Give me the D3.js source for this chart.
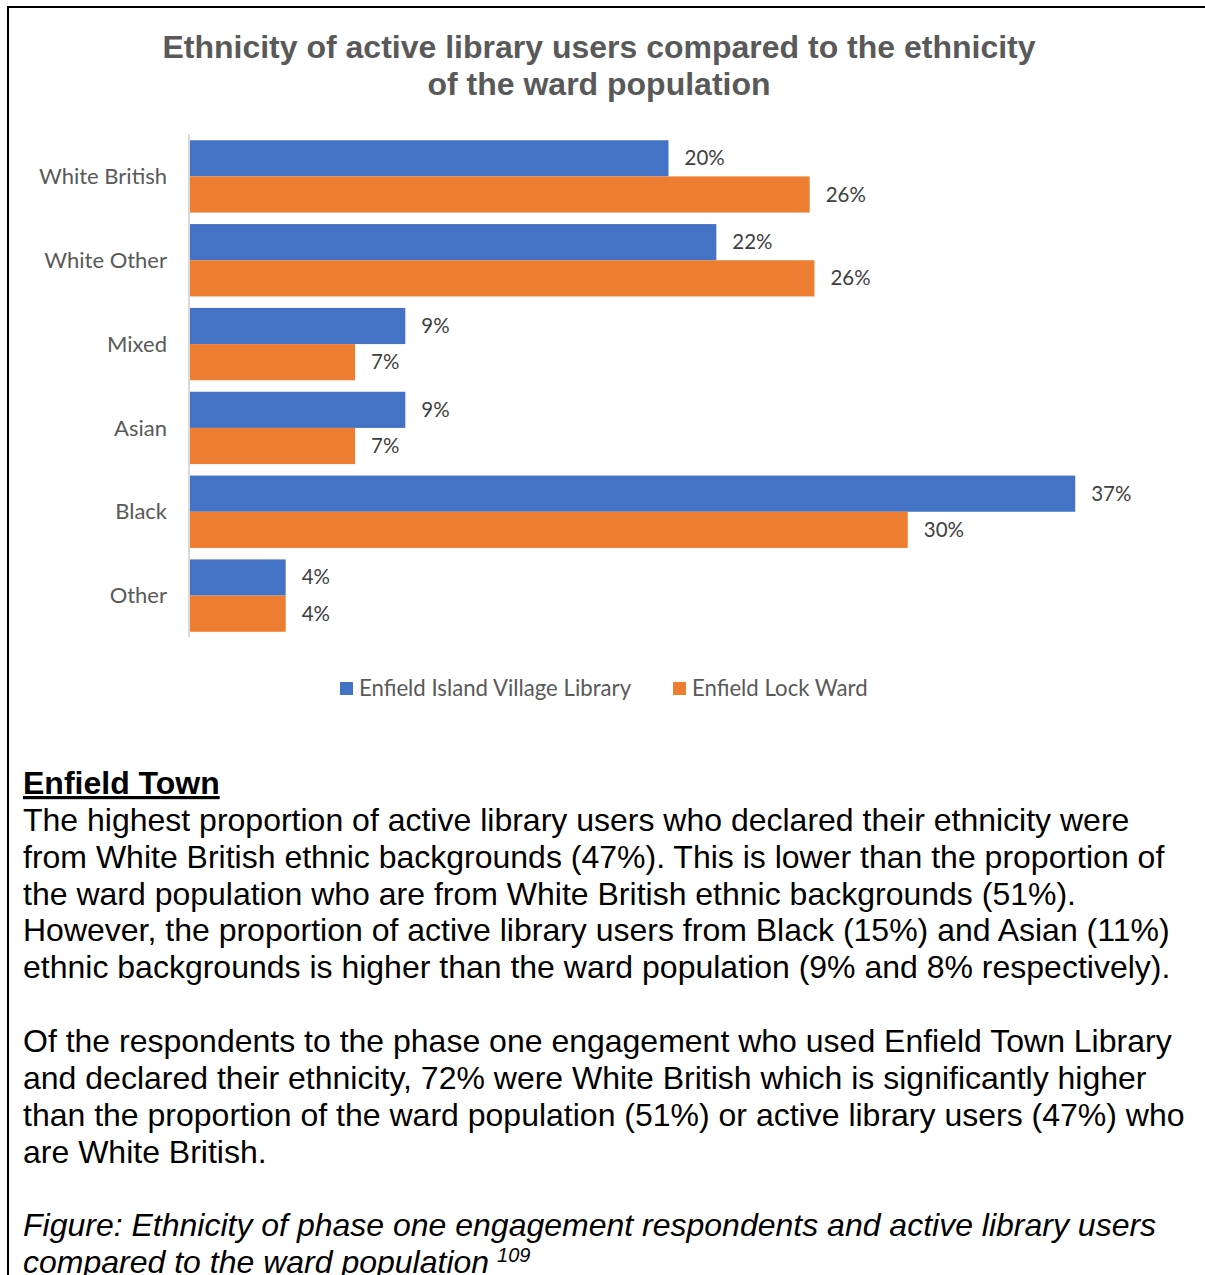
<!DOCTYPE html>
<html>
<head>
<meta charset="utf-8">
<script src="https://cdn.jsdelivr.net/npm/d3@7"></script>
<style>
  html, body { margin: 0; padding: 0; background: #fff; }
  svg { display: block; }
</style>
</head>
<body>
<svg id="chart" width="1205" height="1275"></svg>
<script>
// ---- data ----
const categories = ["White British", "White Other", "Mixed", "Asian", "Black", "Other"];
const seriesNames = ["Enfield Island Village Library", "Enfield Lock Ward"];
const libraryValues = [0.20, 0.22, 0.09, 0.09, 0.37, 0.04];
const wardValues = [0.259, 0.261, 0.069, 0.069, 0.30, 0.04];
const seriesColors = ["#4472C4", "#ED7D31"];
const titleLines = ["Ethnicity of active library users compared to the ethnicity", "of the ward population"];
const heading = "Enfield Town";
const paragraph1 = [
  "The highest proportion of active library users who declared their ethnicity were",
  "from White British ethnic backgrounds (47%). This is lower than the proportion of",
  "the ward population who are from White British ethnic backgrounds (51%).",
  "However, the proportion of active library users from Black (15%) and Asian (11%)",
  "ethnic backgrounds is higher than the ward population (9% and 8% respectively)."
];
const paragraph2 = [
  "Of the respondents to the phase one engagement who used Enfield Town Library",
  "and declared their ethnicity, 72% were White British which is significantly higher",
  "than the proportion of the ward population (51%) or active library users (47%) who",
  "are White British."
];
const captionLines = ["Figure: Ethnicity of phase one engagement respondents and active library users", "compared to the ward population"];
const captionNote = "109";

// ---- drawing ----
const svg = d3.select("#chart");
const labelFont = "Lato, 'Noto Sans', sans-serif";
const bodyFont = "'Liberation Sans', Arial, sans-serif";

// frame lines
svg.append("line").attr("x1", 8).attr("x2", 1205).attr("y1", 7).attr("y2", 7)
  .attr("stroke", "#000").attr("stroke-width", 2);
svg.append("line").attr("x1", 8).attr("x2", 8).attr("y1", 6).attr("y2", 1275)
  .attr("stroke", "#000").attr("stroke-width", 2);

// title
svg.append("g").selectAll("text").data(titleLines).join("text")
  .attr("x", 599).attr("y", (d, i) => 58 + i * 37)
  .attr("text-anchor", "middle")
  .attr("font-family", bodyFont).attr("font-weight", "bold")
  .attr("font-size", 32).attr("fill", "#595959")
  .text(d => d);

const x = d3.scaleLinear().domain([0, 0.4]).range([190, 1147]);
const y = d3.scaleBand().domain(categories).range([134.5, 637.5]).paddingInner(0.137).paddingOuter(0.0685);
const ySub = d3.scaleBand().domain([0, 1]).range([0, y.bandwidth()]);

// axis line
svg.append("line").attr("x1", 189).attr("x2", 189).attr("y1", 134).attr("y2", 637)
  .attr("stroke", "#D9D9D9").attr("stroke-width", 2);

const series = [libraryValues, wardValues];
const fmt = d3.format(".0%");

series.forEach((vals, si) => {
  const g = svg.append("g");
  g.selectAll("rect").data(vals).join("rect")
    .attr("x", x(0))
    .attr("y", (d, i) => y(categories[i]) + ySub(si))
    .attr("width", d => x(d) - x(0))
    .attr("height", ySub.bandwidth())
    .attr("fill", seriesColors[si]);
  g.selectAll("text").data(vals).join("text")
    .attr("x", d => x(d) + 16)
    .attr("y", (d, i) => y(categories[i]) + ySub(si) + ySub.bandwidth() / 2 + 7)
    .attr("font-family", labelFont).attr("font-size", 20.5).attr("fill", "#404040")
    .text(d => fmt(d));
});

// category axis labels
const yAxis = d3.axisLeft(y).tickSize(0).tickPadding(22);
const ax = svg.append("g").attr("transform", "translate(189,0)").call(yAxis);
ax.select(".domain").remove();
ax.selectAll("text")
  .attr("font-family", labelFont).attr("font-size", 22).attr("fill", "#595959")
  .attr("dy", "0.35em");

// legend
const legendX = [340, 673];
const leg = svg.append("g");
seriesNames.forEach((name, i) => {
  leg.append("rect").attr("x", legendX[i]).attr("y", 682).attr("width", 13).attr("height", 13)
    .attr("fill", seriesColors[i]);
  leg.append("text").attr("x", legendX[i] + 19).attr("y", 696)
    .attr("font-family", labelFont).attr("font-size", 22.2).attr("fill", "#595959")
    .text(name);
});

// body text
const lh = 36.85;
const top0 = 794;
const body = svg.append("g").attr("font-family", bodyFont).attr("font-size", 32).attr("fill", "#000");
body.append("text").attr("x", 23).attr("y", top0).attr("font-weight", "bold")
  .attr("text-decoration", "underline").text(heading);
body.selectAll("text.p1").data(paragraph1).join("text").attr("class", "p1")
  .attr("x", 23).attr("y", (d, i) => top0 + (i + 1) * lh).text(d => d);
body.selectAll("text.p2").data(paragraph2).join("text").attr("class", "p2")
  .attr("x", 23).attr("y", (d, i) => top0 + (i + 7) * lh).text(d => d);
const cap = body.selectAll("text.cap").data(captionLines).join("text").attr("class", "cap")
  .attr("x", 23).attr("y", (d, i) => top0 + (i + 12) * lh)
  .attr("font-style", "italic").text(d => d);
cap.filter((d, i) => i === 1).append("tspan").attr("dx", 8).attr("dy", -11)
  .attr("font-size", 20).text(captionNote);
</script>
</body>
</html>
